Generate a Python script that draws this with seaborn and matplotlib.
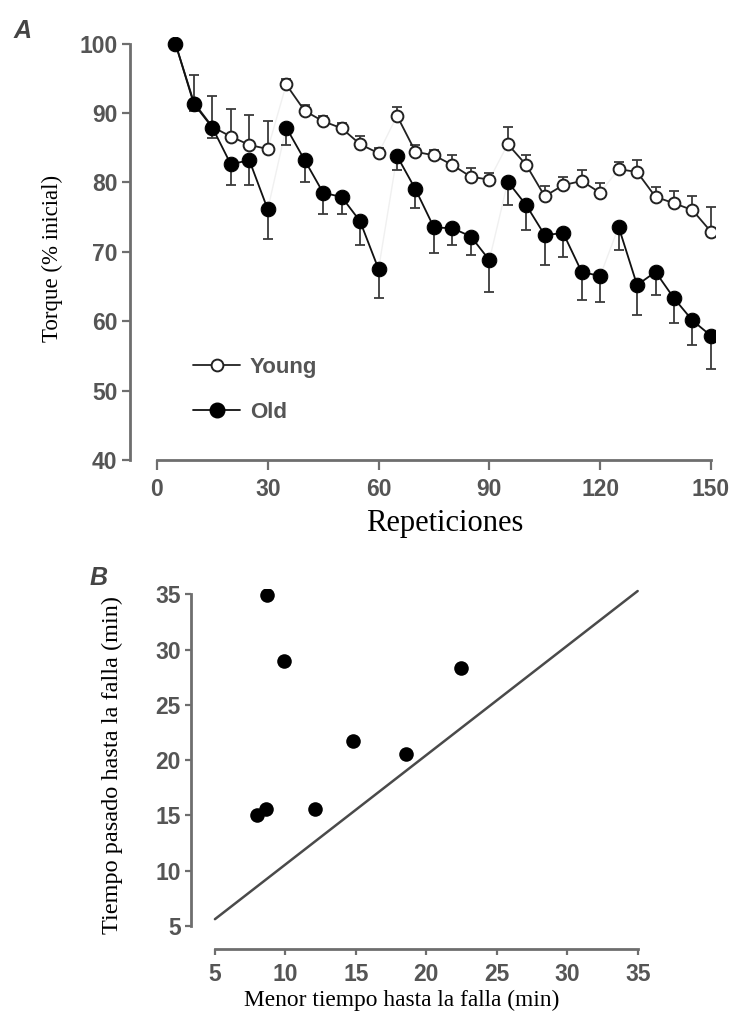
import numpy as np
import pandas as pd
import matplotlib
matplotlib.use("Agg")
import matplotlib.pyplot as plt
from matplotlib.lines import Line2D
import seaborn as sns

# Panel A: torque (% of initial) over repetitions, blocks of 30 reps
reps = [5, 10, 15, 20, 25, 30, 35, 40, 45, 50, 55, 60, 65, 70, 75,
        80, 85, 90, 95, 100, 105, 110, 115, 120, 125, 130, 135, 140, 145, 150]
young = [100, 91.5, 88.0, 86.6, 85.4, 84.8, 94.1, 90.3, 88.8, 87.8, 85.5, 84.2,
         89.6, 84.4, 83.9, 82.5, 80.8, 80.4, 85.5, 82.5, 78.0, 79.6, 80.2, 78.5,
         81.9, 81.5, 77.9, 77.0, 76.0, 72.9]
young_err = [0, 4.0, 4.5, 4.0, 4.3, 4.1, 0.8, 0.8, 0.8, 0.8, 1.2, 0.8,
             1.2, 1.0, 0.8, 1.5, 1.3, 1.0, 2.5, 1.4, 1.5, 1.2, 1.6, 1.4,
             1.0, 1.7, 1.4, 1.7, 2.1, 3.5]
old = [100, 91.3, 87.9, 82.6, 83.2, 76.1, 87.9, 83.2, 78.5, 77.9, 74.4, 67.5,
       83.8, 79.0, 73.5, 73.4, 72.2, 68.8, 80.1, 76.7, 72.4, 72.7, 67.1, 66.5,
       73.6, 65.2, 67.1, 63.3, 60.1, 57.9]
old_err = [0, 1.0, 1.5, 3.0, 3.6, 4.2, 2.5, 3.1, 3.0, 2.4, 3.4, 4.2,
           2.0, 2.7, 3.7, 2.4, 2.7, 4.6, 3.4, 3.6, 4.3, 3.4, 4.1, 3.7,
           3.4, 4.3, 3.3, 3.6, 3.5, 4.8]

# Panel B: time to failure
menor = [8.67, 9.9, 14.77, 7.96, 8.62, 12.1, 22.44, 18.55]
pasado = [34.9, 29.0, 21.75, 15.03, 15.54, 15.54, 28.3, 20.55]
line_x = [5, 35]
line_y = [5.6, 35.3]

sns.set_theme(style="white")
plt.rcParams["font.family"] = ["Liberation Sans", "DejaVu Sans"]

W, H = 743, 1013
fig = plt.figure(figsize=(W / 100, H / 100), dpi=100)

def px_axes(l, r, b, t):
    return fig.add_axes([l / W, 1 - b / H, (r - l) / W, (b - t) / H])

spine_col = "#6e6e6e"
tick_col = "#555555"
serif = ["Liberation Serif", "DejaVu Serif"]

df = pd.DataFrame({"rep": reps, "young": young, "old": old,
                   "young_err": young_err, "old_err": old_err})
df["block"] = (df["rep"] - 1) // 30

# ---------- Panel A ----------
axA = px_axes(130, 715, 460, 36.6)
axA.set_xlim(-7.3, 151.1)
axA.set_ylim(40, 101)

# faint connection across blocks
axA.plot(df["rep"], df["young"], color="#f0f0f0", lw=1, zorder=1)
axA.plot(df["rep"], df["old"], color="#f0f0f0", lw=1, zorder=1)

axA.errorbar(df["rep"], df["young"], yerr=[np.zeros(len(df)), df["young_err"]],
             fmt="none", ecolor="#3a3a3a", elinewidth=1.3, capsize=3.8,
             capthick=1.3, zorder=2)
axA.errorbar(df["rep"], df["old"], yerr=[df["old_err"], np.zeros(len(df))],
             fmt="none", ecolor="#3a3a3a", elinewidth=1.3, capsize=3.8,
             capthick=1.3, zorder=2)

sns.lineplot(data=df, x="rep", y="young", units="block", estimator=None,
             color="#222222", lw=1.3, marker="o", markersize=8.5,
             markerfacecolor="white", markeredgecolor="#222222",
             markeredgewidth=1.4, ax=axA, zorder=3)
sns.lineplot(data=df, x="rep", y="old", units="block", estimator=None,
             color="#111111", lw=1.3, marker="o", markersize=10.5,
             markerfacecolor="black", markeredgecolor="black", ax=axA, zorder=4)

axA.set_xticks([0, 30, 60, 90, 120, 150])
axA.set_yticks([40, 50, 60, 70, 80, 90, 100])
axA.spines["left"].set_bounds(40, 100)
axA.spines["bottom"].set_bounds(0, 150)

axA.set_xlabel("Repeticiones", family=serif, fontsize=22, color="black", va="center")
axA.xaxis.set_label_coords(0.538, -0.149)
axA.set_ylabel("Torque (% inicial)", family=serif, fontsize=16.5, color="black", va="center")
axA.yaxis.set_label_coords(-0.132, 0.477)

handles = [
    Line2D([], [], color="#222222", lw=1.3, marker="o", markersize=8.5,
           markerfacecolor="white", markeredgecolor="#222222", markeredgewidth=1.4),
    Line2D([], [], color="#111111", lw=1.3, marker="o", markersize=10.5,
           markerfacecolor="black", markeredgecolor="black"),
]
leg = axA.legend(handles, ["Young", "Old"], loc="upper left",
                 bbox_to_anchor=(0.074, 0.29), frameon=False, fontsize=16,
                 handlelength=2.1, handletextpad=0.45, labelspacing=1.05)
for t in leg.get_texts():
    t.set_color(tick_col)
    t.set_fontweight("bold")

# ---------- Panel B ----------
axB = px_axes(190.7, 641.9, 949, 588.8)
axB.set_xlim(3.28, 35.3)
axB.set_ylim(2.9, 35.5)
axB.plot(line_x, line_y, color="#4a4a4a", lw=1.8, zorder=2)
sns.scatterplot(x=menor, y=pasado, color="black", s=110, edgecolor="black",
                linewidth=0, ax=axB, zorder=3)
axB.set_xticks([5, 10, 15, 20, 25, 30, 35])
axB.set_yticks([5, 10, 15, 20, 25, 30, 35])
axB.spines["left"].set_bounds(5, 35)
axB.spines["bottom"].set_bounds(5, 35)

axB.set_xlabel("Menor tiempo hasta la falla (min)", family=serif, fontsize=16.8,
               color="black", va="center")
axB.xaxis.set_label_coords(0.468, -0.1416)
axB.set_ylabel("Tiempo pasado hasta la falla (min)", family=serif, fontsize=17.5,
               color="black", va="center")
axB.yaxis.set_label_coords(-0.174, 0.511)

for ax, xlen, ylen in [(axA, 7, 6), (axB, 4, 4)]:
    for side in ["top", "right"]:
        ax.spines[side].set_visible(False)
    for side in ["left", "bottom"]:
        ax.spines[side].set_color(spine_col)
        ax.spines[side].set_linewidth(2)
    ax.tick_params(axis="x", direction="out", length=xlen, width=1.6,
                   color=spine_col, pad=6, labelsize=16.5, labelcolor=tick_col)
    ax.tick_params(axis="y", direction="out", length=ylen, width=1.6,
                   color=spine_col, pad=3, labelsize=16.5, labelcolor=tick_col)
    ax.tick_params(bottom=True, left=True)
    for lab in ax.get_xticklabels() + ax.get_yticklabels():
        lab.set_fontweight("bold")

fig.text(23 / W, 1 - 31 / H, "A", fontsize=18, fontweight="bold", fontstyle="italic",
         color="#444444", ha="center", va="center")
fig.text(99 / W, 1 - 578 / H, "B", fontsize=18, fontweight="bold", fontstyle="italic",
         color="#444444", ha="center", va="center")

fig.savefig("out.png", dpi=100, facecolor="white")
